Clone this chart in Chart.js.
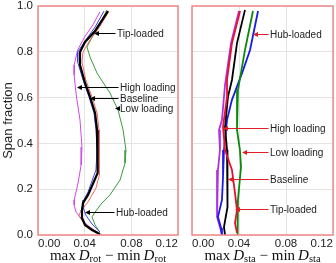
<!DOCTYPE html>
<html>
<head>
<meta charset="utf-8">
<script src="https://cdn.jsdelivr.net/npm/chart.js@4.4.1/dist/chart.umd.min.js"></script>
<style>
  html, body { margin: 0; padding: 0; background: #fff; }
  #wrap { position: relative; width: 336px; height: 263px; }
  #wrap canvas { position: absolute; top: 0; }
</style>
</head>
<body>
<div id="wrap">
  <canvas id="rot" width="180" height="263" style="left:0"></canvas>
  <canvas id="sta" width="156" height="263" style="left:180px"></canvas>
</div>
<script>
// axis ticks
const spanTicks = [0, 0.2, 0.4, 0.6, 0.8, 1.0];
const diffTicks = [0, 0.04, 0.08, 0.12];

// rotor: max D_rot - min D_rot against span fraction
const rotBaselineX = [0.060, 0.0489, 0.0403, 0.036, 0.036, 0.0403, 0.0446, 0.0489, 0.0506, 0.0514, 0.0514, 0.0506, 0.0429, 0.0386, 0.0377, 0.0377, 0.0403, 0.0463, 0.053];
const rotBaselineY = [0.978, 0.891, 0.843, 0.799, 0.742, 0.664, 0.603, 0.533, 0.459, 0.402, 0.314, 0.271, 0.175, 0.140, 0.109, 0.074, 0.044, 0.022, 0.004];
const rotHubX = [0.0566, 0.0489, 0.041, 0.034, 0.034, 0.0386, 0.0437, 0.048, 0.0497, 0.0506, 0.0497, 0.0429, 0.0394, 0.0386, 0.041, 0.0463, 0.053];
const rotHubY = [0.978, 0.908, 0.852, 0.799, 0.755, 0.677, 0.603, 0.533, 0.459, 0.371, 0.284, 0.188, 0.153, 0.122, 0.087, 0.048, 0.013];
const rotTipX = [0.0609, 0.0523, 0.0446, 0.0386, 0.0377, 0.041, 0.0463, 0.0506, 0.0523, 0.053, 0.0523, 0.0497, 0.0429, 0.037, 0.035, 0.039, 0.0463, 0.0549];
const rotTipY = [0.978, 0.904, 0.852, 0.799, 0.755, 0.677, 0.603, 0.533, 0.459, 0.328, 0.262, 0.205, 0.144, 0.109, 0.083, 0.055, 0.026, 0.0];
const rotLowX = [0.059, 0.053, 0.046, 0.042, 0.0446, 0.0506, 0.0617, 0.0686, 0.0729, 0.0754, 0.0746, 0.0703, 0.0617, 0.0549, 0.0489, 0.0463, 0.0489, 0.053];
const rotLowY = [0.983, 0.917, 0.86, 0.821, 0.777, 0.707, 0.62, 0.546, 0.459, 0.371, 0.314, 0.240, 0.175, 0.140, 0.100, 0.079, 0.044, 0.013];
const rotHighX = [0.053, 0.047, 0.040, 0.034, 0.031, 0.031, 0.032, 0.033, 0.036, 0.0377, 0.037, 0.034, 0.031, 0.031, 0.0326, 0.036, 0.042, 0.0506];
const rotHighY = [0.974, 0.917, 0.865, 0.808, 0.742, 0.699, 0.646, 0.603, 0.502, 0.384, 0.306, 0.218, 0.153, 0.131, 0.100, 0.079, 0.044, 0.013];

// stator: max D_sta - min D_sta against span fraction
const staBaselineX = [0.0451, 0.0383, 0.034, 0.0306, 0.0281, 0.0298, 0.0306, 0.0298, 0.0272, 0.0281];
const staBaselineY = [0.983, 0.838, 0.677, 0.603, 0.472, 0.371, 0.240, 0.122, 0.035, 0.0];
const staTipX = [0.0409, 0.034, 0.0298, 0.0298, 0.0264, 0.0281, 0.034, 0.0366, 0.0383, 0.0366, 0.0383];
const staTipY = [0.978, 0.838, 0.677, 0.603, 0.472, 0.371, 0.284, 0.183, 0.109, 0.052, 0.009];
const staLowX = [0.0519, 0.0451, 0.0391, 0.0383, 0.0383, 0.0408, 0.0417, 0.0391, 0.0383, 0.0391, 0.0391];
const staLowY = [0.978, 0.808, 0.633, 0.546, 0.459, 0.371, 0.297, 0.153, 0.096, 0.022, 0.0];
const staHubX = [0.0562, 0.0494, 0.0426, 0.034, 0.0298, 0.0272, 0.0264, 0.0255, 0.0221, 0.0247, 0.0255];
const staHubY = [0.978, 0.808, 0.707, 0.590, 0.502, 0.371, 0.253, 0.153, 0.079, 0.031, 0.0];
const staHighX = [0.040, 0.0332, 0.0281, 0.0255, 0.023, 0.0238, 0.0221, 0.0213, 0.0238, 0.0255];
const staHighY = [0.978, 0.838, 0.655, 0.502, 0.459, 0.371, 0.284, 0.079, 0.035, 0.0];

// annotation labels, arrow tips and where the text starts (data units)
const rotNotes = ['Tip-loaded', 'High loading', 'Baseline', 'Low loading', 'Hub-loaded'];
const rotNoteX = [0.048, 0.0334, 0.0446, 0.066, 0.0403];
const rotNoteY = [0.882, 0.646, 0.598, 0.555, 0.100];
const rotNoteTextX = [0.0677, 0.0703, 0.0703, 0.0703, 0.0669];
const staNotes = ['Hub-loaded', 'High loading', 'Low loading', 'Baseline', 'Tip-loaded'];
const staNoteX = [0.0519, 0.0264, 0.0426, 0.0306, 0.0366];
const staNoteY = [0.878, 0.467, 0.362, 0.245, 0.114];
const staNoteTextX = [0.0664, 0.0664, 0.0664, 0.0664, 0.0664];

const SANS = '"Liberation Sans", Arial, sans-serif';
const SERIF = '"Liberation Serif", "Times New Roman", serif';

function pts(xs, ys) {
    return xs.map((x, i) => ({x: x, y: ys[i]}));
}

function line(label, xs, ys, color, width) {
    return {
        label: label,
        data: pts(xs, ys),
        borderColor: color,
        borderWidth: width,
        pointRadius: 0,
        showLine: true,
        tension: 0,
        fill: false
    };
}

function drawMathTitle(ctx, cx, baseY, sub) {
    const big = '15px ' + SERIF;
    const small = '10.5px ' + SERIF;
    const parts = [
        {t: 'max', f: big}, {t: '\u2009', f: big},
        {t: 'D', f: 'italic ' + big}, {t: sub, f: small, dy: 2},
        {t: ' \u2212 ', f: big},
        {t: 'min', f: big}, {t: '\u2009', f: big},
        {t: 'D', f: 'italic ' + big}, {t: sub, f: small, dy: 2}
    ];
    let w = 0;
    parts.forEach(p => { ctx.font = p.f; p.w = ctx.measureText(p.t).width; w += p.w; });
    let x = cx - w / 2;
    ctx.fillStyle = '#111';
    ctx.textAlign = 'left';
    ctx.textBaseline = 'alphabetic';
    parts.forEach(p => {
        ctx.font = p.f;
        ctx.fillText(p.t, x, baseY + (p.dy || 0));
        x += p.w;
    });
}

const decorations = {
    id: 'decorations',
    afterDatasetsDraw(chart, args, opts) {
        const ctx = chart.ctx;
        const a = chart.chartArea;
        const sx = chart.scales.x, sy = chart.scales.y;
        ctx.save();
        // arrows with labels
        ctx.font = '10px ' + SANS;
        ctx.textBaseline = 'middle';
        ctx.textAlign = 'left';
        opts.notes.forEach((txt, i) => {
            const hx = sx.getPixelForValue(opts.noteX[i]);
            const hy = Math.round(sy.getPixelForValue(opts.noteY[i])) + 0.5;
            const tx = sx.getPixelForValue(opts.textX[i]);
            ctx.strokeStyle = opts.arrow;
            ctx.fillStyle = opts.arrow;
            ctx.lineWidth = 1;
            ctx.beginPath();
            ctx.moveTo(tx - 1.5, hy);
            ctx.lineTo(hx + 3, hy);
            ctx.stroke();
            ctx.beginPath();
            ctx.moveTo(hx, hy);
            ctx.lineTo(hx + 5, hy - 2.5);
            ctx.lineTo(hx + 5, hy + 2.5);
            ctx.closePath();
            ctx.fill();
            ctx.fillStyle = '#222';
            ctx.fillText(txt, tx, hy + 0.5);
        });
        // red frame
        ctx.strokeStyle = '#f08888';
        ctx.lineWidth = 1.5;
        ctx.strokeRect(a.left, a.top, a.right - a.left, a.bottom - a.top);
        ctx.restore();
    },
    afterDraw(chart, args, opts) {
        const ctx = chart.ctx;
        const a = chart.chartArea;
        ctx.save();
        drawMathTitle(ctx, (a.left + a.right) / 2, 260, opts.sub);
        if (opts.yTitle) {
            ctx.translate(8, (a.top + a.bottom) / 2);
            ctx.rotate(-Math.PI / 2);
            ctx.font = '13px ' + SANS;
            ctx.fillStyle = '#222';
            ctx.textAlign = 'center';
            ctx.textBaseline = 'middle';
            ctx.fillText(opts.yTitle, 0, 0);
        }
        ctx.restore();
    }
};

function makeChart(id, datasets, o) {
    return new Chart(document.getElementById(id), {
        type: 'scatter',
        data: {datasets: datasets},
        options: {
            responsive: false,
            animation: false,
            layout: {padding: {top: 6, right: o.padRight, left: 0, bottom: 0}},
            scales: {
                x: {
                    type: 'linear',
                    min: 0, max: 0.12,
                    afterBuildTicks: s => { s.ticks = diffTicks.map(v => ({value: v})); },
                    afterFit: s => { s.height = 28; s.paddingLeft = 0; s.paddingRight = 0; },
                    border: {display: false},
                    grid: {color: '#e4e4e4', lineWidth: 1, drawTicks: false},
                    ticks: {
                        align: 'inner',
                        padding: 2,
                        color: '#222',
                        font: {family: SANS, size: 11.5},
                        maxRotation: 0,
                        callback: v => v.toFixed(2)
                    }
                },
                y: {
                    type: 'linear',
                    min: 0, max: 1,
                    afterBuildTicks: s => { s.ticks = spanTicks.map(v => ({value: v})); },
                    afterFit: s => { s.width = o.yWidth; s.paddingTop = 0; s.paddingBottom = 0; },
                    border: {display: false},
                    grid: {color: '#e4e4e4', lineWidth: 1, drawTicks: false},
                    ticks: {
                        display: o.yLabels,
                        padding: 5,
                        color: '#222',
                        font: {family: SANS, size: 11.5},
                        callback: v => v.toFixed(1)
                    }
                }
            },
            plugins: {
                legend: {display: false},
                tooltip: {enabled: false},
                decorations: {
                    notes: o.notes, noteX: o.noteX, noteY: o.noteY, textX: o.textX,
                    arrow: o.arrow, sub: o.sub, yTitle: o.yTitle
                }
            }
        },
        plugins: [decorations]
    });
}

makeChart('rot', [
    line('Baseline', rotBaselineX, rotBaselineY, '#000000', 2.2),
    line('Hub-loaded', rotHubX, rotHubY, '#4040f0', 1),
    line('Tip-loaded', rotTipX, rotTipY, '#f06a60', 1),
    line('Low loading', rotLowX, rotLowY, '#3a9a3a', 1),
    line('High loading', rotHighX, rotHighY, '#d048e8', 1)
], {
    padRight: 2, yWidth: 38, yLabels: true, yTitle: 'Span fraction', sub: 'rot',
    notes: rotNotes, noteX: rotNoteX, noteY: rotNoteY, textX: rotNoteTextX, arrow: '#000'
});

makeChart('sta', [
    line('Tip-loaded', staTipX, staTipY, '#e8102e', 1.8),
    line('Baseline', staBaselineX, staBaselineY, '#000000', 1.8),
    line('Low loading', staLowX, staLowY, '#0a8a0a', 1.8),
    line('Hub-loaded', staHubX, staHubY, '#1a1aee', 1.8),
    line('High loading', staHighX, staHighY, '#b030e8', 1.8)
], {
    padRight: 3, yWidth: 12, yLabels: false, yTitle: null, sub: 'sta',
    notes: staNotes, noteX: staNoteX, noteY: staNoteY, textX: staNoteTextX, arrow: '#e01e28'
});
</script>
</body>
</html>
